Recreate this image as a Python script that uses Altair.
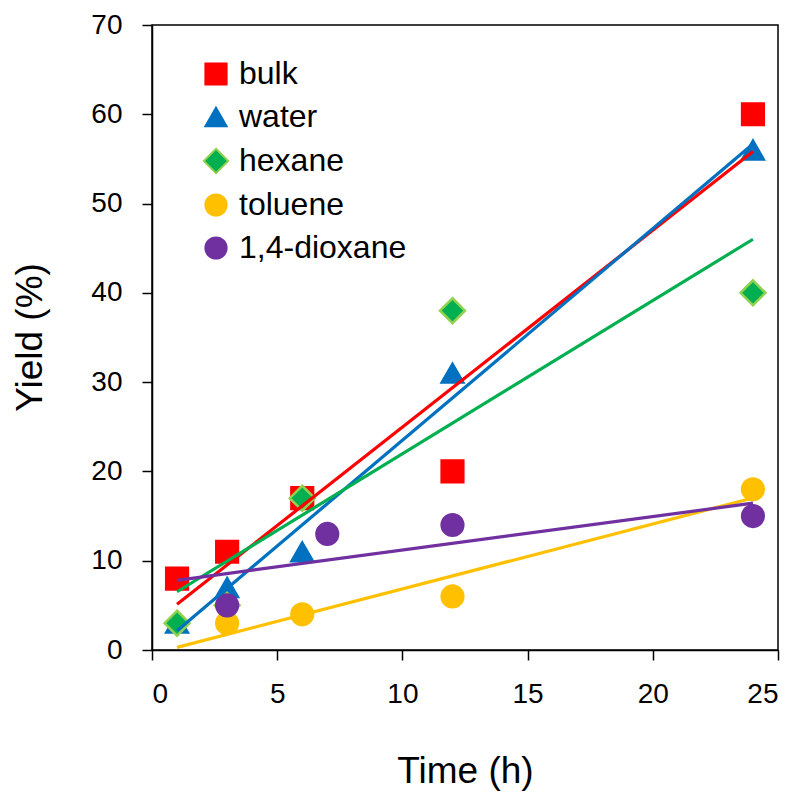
import altair as alt
import pandas as pd

series_names = ["bulk", "water", "hexane", "toluene", "1,4-dioxane"]
series_fill = ["#FF0000", "#0070C0", "#00B050", "#FFC000", "#7030A0"]
series_stroke = ["#FF0000", "#0070C0", "#92D050", "#FFC000", "#7030A0"]
DIAMOND = "M0,-1.15L1.15,0L0,1.15L-1.15,0Z"
CIRCLE = "M1,0A1,1,0,1,1,-1,0A1,1,0,1,1,1,0Z"
series_shape = ["square", "triangle-up", DIAMOND, CIRCLE, CIRCLE]

bulk_t = [1, 3, 6, 12, 24]
bulk_y = [8, 11, 17, 20, 60]
water_t = [1, 3, 6, 12, 24]
water_y = [3, 7, 11, 31, 56]
hexane_t = [1, 3, 6, 12, 24]
hexane_y = [3, 5, 17, 38, 40]
toluene_t = [3, 6, 12, 24]
toluene_y = [3, 4, 6, 18]
dioxane_t = [3, 7, 12, 24]
dioxane_y = [5, 13, 14, 15]

x_ticks = [0, 5, 10, 15, 20, 25]
y_ticks = [0, 10, 20, 30, 40, 50, 60, 70]

rows = []
for name, ts, ys in [("bulk", bulk_t, bulk_y), ("water", water_t, water_y),
                     ("hexane", hexane_t, hexane_y), ("toluene", toluene_t, toluene_y),
                     ("1,4-dioxane", dioxane_t, dioxane_y)]:
    for t, y in zip(ts, ys):
        rows.append({"series": name, "time": t, "yield": y})
df = pd.DataFrame(rows)

FONT = "Liberation Sans"

x_enc = alt.X("time:Q", scale=alt.Scale(domain=[0, 25], nice=False),
              axis=alt.Axis(values=x_ticks, title="Time (h)", titleX=313, titleY=132,
                            titleBaseline="alphabetic", titleAlign="center"))
y_enc = alt.Y("yield:Q", scale=alt.Scale(domain=[0, 70], nice=False),
              axis=alt.Axis(values=y_ticks, title="Yield (%)", titleX=-111, titleY=312,
                            titleAngle=-90, titleBaseline="alphabetic", titleAlign="center"))

leg = alt.Legend(title=None, orient="none", legendX=48, legendY=33, labelLimit=0)

points = alt.Chart(df).mark_point(filled=True, opacity=1, strokeWidth=2.5, size=470).encode(
    x=x_enc,
    y=y_enc,
    fill=alt.Fill("series:N", scale=alt.Scale(domain=series_names, range=series_fill),
                  sort=series_names, legend=leg),
    stroke=alt.Stroke("series:N", scale=alt.Scale(domain=series_names, range=series_stroke),
                      sort=series_names, legend=leg),
    shape=alt.Shape("series:N", scale=alt.Scale(domain=series_names, range=series_shape),
                    sort=series_names, legend=leg),
)

lines = alt.Chart(df).transform_regression(
    "time", "yield", groupby=["series"], extent=[1, 24]
).mark_line(strokeWidth=3.2).encode(
    x="time:Q",
    y="yield:Q",
    color=alt.Color("series:N", scale=alt.Scale(domain=series_names, range=series_fill),
                    legend=None),
    detail="series:N",
)

chart = alt.layer(points, lines).properties(
    width=626, height=625,
    autosize=alt.AutoSizeParams(type="none"),
    padding={"left": 152, "top": 25, "right": 15, "bottom": 142},
).configure_view(
    stroke="black", strokeWidth=1.5
).configure_axis(
    grid=False, domainColor="black", domainWidth=1.5, tickColor="black", tickWidth=1.5,
    tickSize=10, labelPadding=20, labelFont=FONT, labelFontSize=28, labelColor="black",
    titleFont=FONT, titleFontSize=37, titleColor="black", titleFontWeight="normal",
).configure_legend(
    labelFont=FONT, labelFontSize=32, labelColor="black", symbolSize=450,
    rowPadding=11, labelOffset=7, padding=0, symbolStrokeWidth=2, labelLimit=0,
)

chart.save("out.html", embed_options={"renderer": "svg", "actions": False})
